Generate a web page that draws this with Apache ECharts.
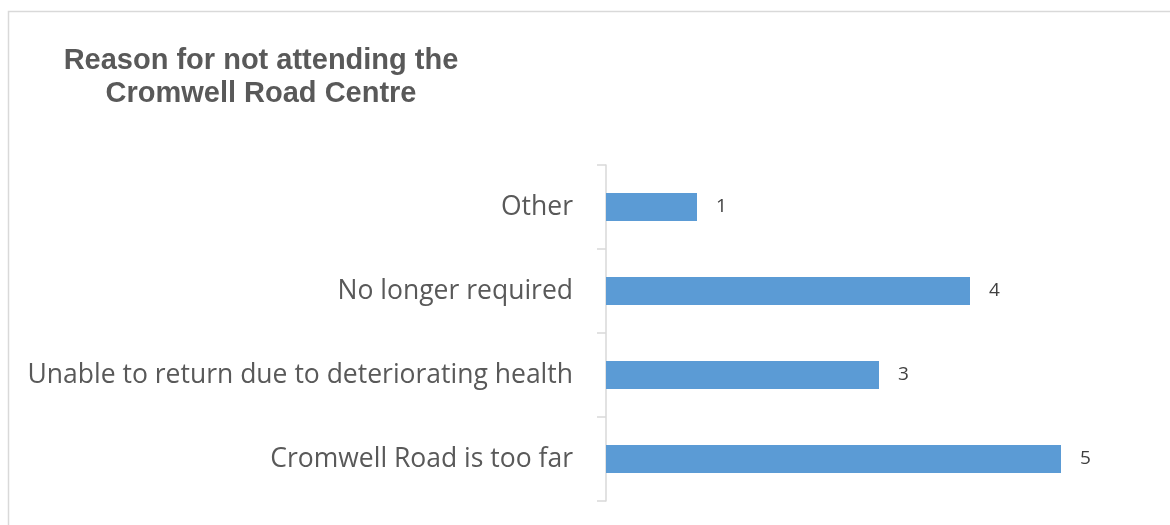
<!DOCTYPE html>
<html><head><meta charset="utf-8">
<script src="https://cdn.jsdelivr.net/npm/echarts@6/dist/echarts.min.js"></script>
<style>html,body{margin:0;padding:0;background:#fff;}#c{width:1170px;height:525px;}</style>
</head><body><div id="c"></div>
<script>
const categories = ['Cromwell Road is too far','Unable to return due to deteriorating health','No longer required','Other'];
const values = [5, 3, 4, 1];
const titleText = 'Reason for not attending the\nCromwell Road Centre';

const chart = echarts.init(document.getElementById('c'), null, {renderer:'canvas'});
chart.setOption({
  animation:false,
  backgroundColor:'#fff',
  graphic:[{type:'rect',shape:{x:8.5,y:11.5,width:1300,height:700},style:{fill:'none',stroke:'#d9d9d9',lineWidth:1.5},silent:true,z:-1}],
  title:{text:titleText,left:256,top:39,textAlign:'center',
    textStyle:{fontFamily:'Liberation Sans',fontWeight:'bold',fontSize:29,color:'#595959',lineHeight:33}},
  grid:{left:606,right:18,top:165,bottom:24,containLabel:false},
  xAxis:{type:'value',min:0,max:6,show:false},
  yAxis:{type:'category',data:categories,
    axisLine:{show:true,lineStyle:{color:'#d9d9d9',width:1.5}},
    axisTick:{show:true,length:9,lineStyle:{color:'#d9d9d9',width:1.5}},
    axisLabel:{margin:33,fontFamily:'Open Sans',fontSize:26.5,color:'#595959'}},
  series:[{type:'bar',data:values,barWidth:28,
    itemStyle:{color:'#5b9bd5'},
    label:{show:true,position:'right',distance:19,fontFamily:'Open Sans',fontSize:19,color:'#404040'}}]
});
</script></body></html>
